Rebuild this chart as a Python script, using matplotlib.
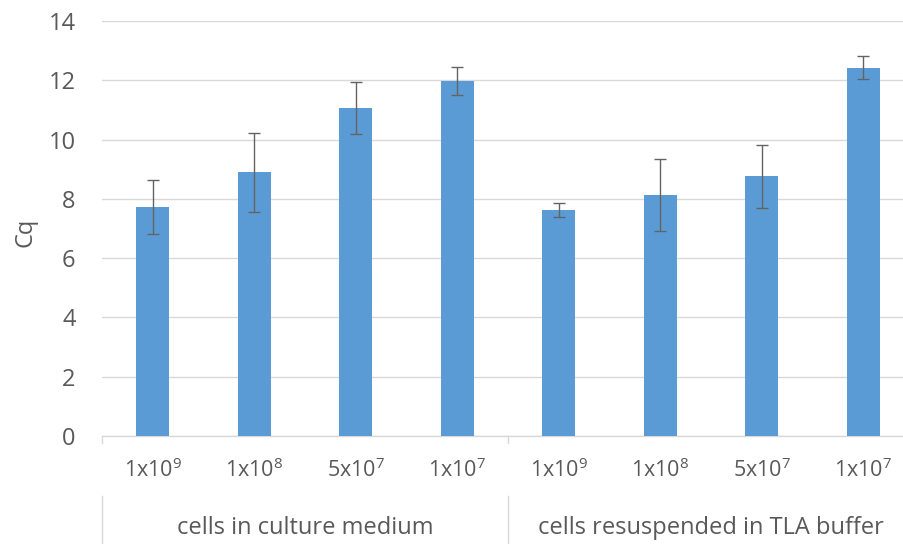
import matplotlib
matplotlib.use("Agg")
import matplotlib.pyplot as plt
import matplotlib.transforms as mtransforms

plt.rcParams['font.family'] = ['Open Sans', 'DejaVu Sans']
plt.rcParams['mathtext.default'] = 'regular'

sub_labels = ['1x10$^9$', '1x10$^8$', '5x10$^7$', '1x10$^7$',
              '1x10$^9$', '1x10$^8$', '5x10$^7$', '1x10$^7$']
groups = ['cells in culture medium', 'cells resuspended in TLA buffer']
cq_values = [7.73, 8.89, 11.07, 11.98, 7.63, 8.12, 8.76, 12.43]
cq_errors = [0.90, 1.33, 0.88, 0.46, 0.24, 1.21, 1.06, 0.39]
y_ticks = [0, 2, 4, 6, 8, 10, 12, 14]

fig = plt.figure(figsize=(9.04, 5.44), dpi=100)
ax = fig.add_axes([102/904, 108/544, 812/904, 415/544])

x = list(range(len(cq_values)))
ax.bar(x, cq_values, width=0.33, color='#5B9BD5', zorder=3,
       yerr=cq_errors, error_kw=dict(ecolor='#636363', elinewidth=1.0,
                                      capsize=4.5, capthick=1.0, zorder=4))

ax.set_xlim(-0.5, 7.5)
ax.set_ylim(0, 14)
ax.set_yticks(y_ticks)
ax.set_yticklabels([str(v) for v in y_ticks], fontsize=17, color='#595959')
ax.tick_params(axis='y', length=0, pad=19)
ax.grid(axis='y', color='#d9d9d9', linewidth=1.0, zorder=0)
ax.set_axisbelow(True)

ax.set_xticks(x)
ax.set_xticklabels(sub_labels, fontsize=15.5, color='#595959')
ax.tick_params(axis='x', length=0, pad=16)

for s in ['top', 'right', 'left']:
    ax.spines[s].set_visible(False)
ax.spines['bottom'].set_color('#d9d9d9')
ax.spines['bottom'].set_linewidth(1.0)

fig.text(26/904, 1 - 232/544, 'Cq', rotation=90, ha='center', va='center',
         fontsize=17, color='#595959')

trans = mtransforms.blended_transform_factory(ax.transData, ax.transAxes)
for xv in [-0.5, 3.5]:
    ax.plot([xv, xv], [0, -0.016], color='#d9d9d9', lw=1.0,
            transform=trans, clip_on=False)
    ax.plot([xv, xv], [-0.145, -0.27], color='#d9d9d9', lw=1.0,
            transform=trans, clip_on=False)

for gx, g in zip([1.5, 5.5], groups):
    ax.text(gx, -0.222, g, transform=trans, ha='center', va='center',
            fontsize=17, color='#595959')

fig.savefig('out.png', dpi=100)
